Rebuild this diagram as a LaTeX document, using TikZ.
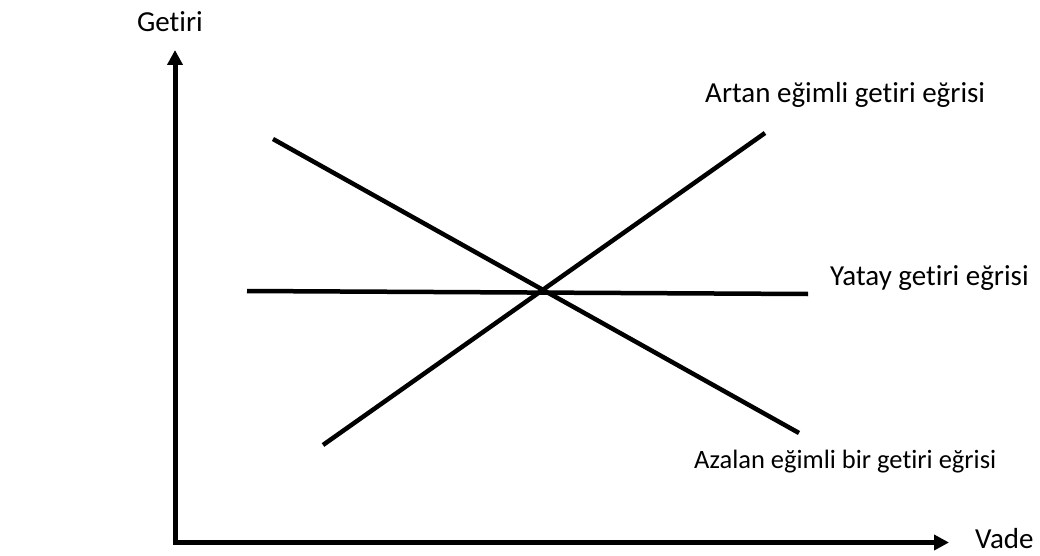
\documentclass[tikz,border=0pt]{standalone}
\usepackage{fontspec}
\setmainfont{Carlito}[Ligatures=NoCommon]
\usetikzlibrary{arrows.meta}
\tikzset{
 axis/.style={black, line width=5pt, -{Triangle[length=15pt,width=15pt]}},
 curve/.style={black, line width=4.5pt},
 lbl/.style={inner sep=0, anchor=base west, font=\fontsize{29}{34}\selectfont}
}
\begin{document}
\begin{tikzpicture}[x=1pt, y=-1pt]
\useasboundingbox (0,0) rectangle (1040,556);
\coordinate (O) at (175,542.5);
\coordinate (ytop) at (175,50);
\coordinate (xend) at (949,542.5);
\draw[axis] ([yshift=2.5pt]O) -- (ytop);
\draw[axis] ([xshift=-2.5pt]O) -- (xend);
\node[lbl, anchor=base] (getiri) at (170,32) {Getiri};
\node[lbl] (vade) at (975,548) {Vade};
% egriler
\coordinate (art1) at (323,445);
\coordinate (art2) at (765,133);
\coordinate (az1) at (273,139);
\coordinate (az2) at (799,433);
\coordinate (yt1) at (247,291);
\coordinate (yt2) at (808,294);
\foreach \a/\b in {art1/art2, az1/az2, yt1/yt2}
 \draw[curve] (\a) -- (\b);
\node[lbl] (artan) at (705,103) {Artan eğimli getiri eğrisi};
\node[lbl] (yatay) at (830,285) {Yatay getiri eğrisi};
\node[lbl, font=\fontsize{26.5}{31}\selectfont] (azalan) at (694,468) {Azalan eğimli bir getiri eğrisi};
\end{tikzpicture}
\end{document}
